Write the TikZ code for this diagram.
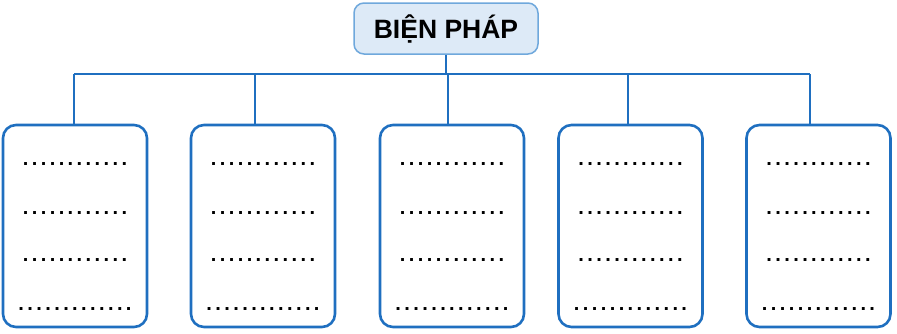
\documentclass[tikz,border=0pt]{standalone}
\usepackage{fontspec}
\setmainfont{Liberation Sans}
\definecolor{lineblue}{HTML}{1F6FC0}
\definecolor{topborder}{HTML}{6FA8DC}
\definecolor{topfill}{HTML}{DDEAF7}
\newcommand\dotsrow[1]{\count255=0 \loop.\advance\count255 by 1 \ifnum\count255<#1\kern 3.4pt\repeat}
\tikzset{
  conn/.style={draw=lineblue, line width=2.6pt},
  leafbox/.style={draw=lineblue, line width=2.6pt, rounded corners=13pt, minimum width=144pt, minimum height=202pt, inner sep=0pt, fill=white},
  topbox/.style={draw=topborder, fill=topfill, line width=1.5pt, rounded corners=10pt, minimum width=184pt, minimum height=51pt, inner sep=0pt, font=\fontsize{26.5pt}{28pt}\selectfont\bfseries},
  dotline/.style={font=\fontsize{20pt}{22pt}\selectfont\bfseries, inner sep=0pt, anchor=base}
}
\begin{document}
\begin{tikzpicture}[x=1pt,y=-1pt]
\useasboundingbox (0,0) rectangle (897,333);
\node[topbox] (top) at (446,28.5) {BIỆN PHÁP};
\coordinate (bus) at (446,74);
\foreach \n/\cx/\sx in {1/75/74, 2/263/255, 3/452/448, 4/630.5/628, 5/818.5/810} {
  \node[leafbox] (b\n) at (\cx,226) {};
  \coordinate (s\n) at (\sx,74);
  \draw[conn] (s\n) -- (s\n |- b\n.north);
  \foreach \k/\yy in {1/165.5,2/214,3/261.5} {
    \node[dotline] (d\n\k) at (\cx,\yy) {\dotsrow{12}};
  }
  \node[dotline] (d\n4) at (\cx,310) {\dotsrow{13}};
}
\draw[conn] (s1) -- (s5);
\draw[conn] (top.south) -- (bus);
\end{tikzpicture}
\end{document}
